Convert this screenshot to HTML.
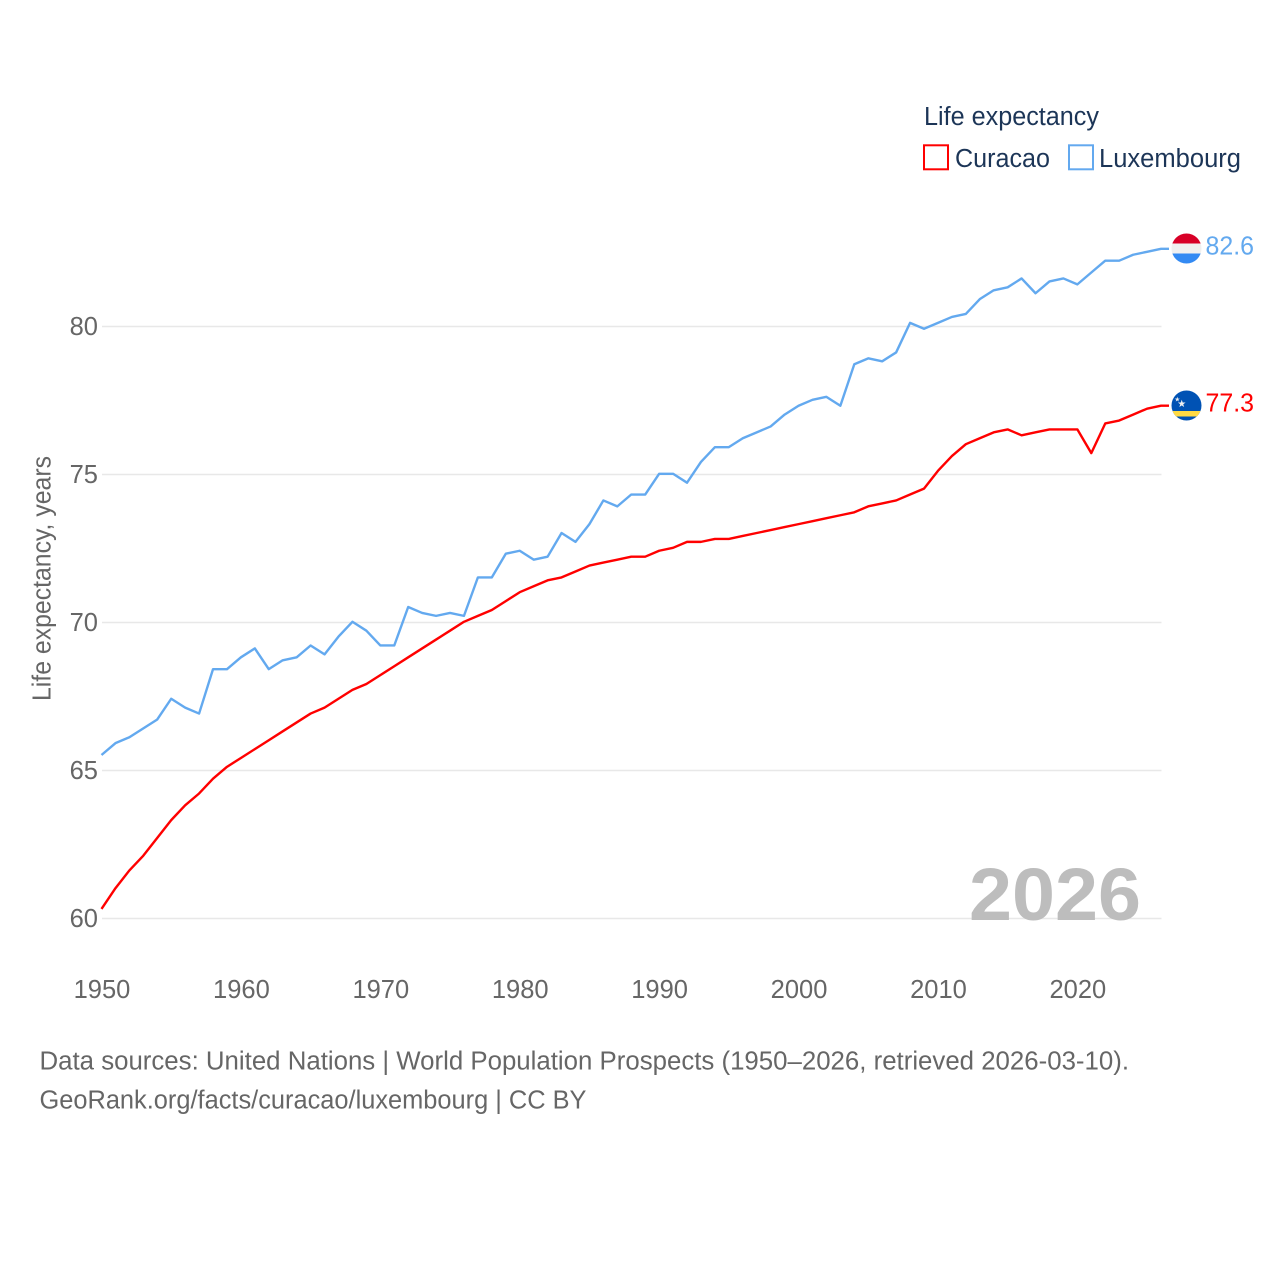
<!DOCTYPE html>
<html lang="en">
<head>
<meta charset="utf-8">
<title>Life expectancy: Curacao and Luxembourg</title>
<style>
html,body{margin:0;padding:0;background:#fff;width:1280px;height:1280px;overflow:hidden}
svg{display:block}
text{font-family:"Liberation Sans",sans-serif}
</style>
</head>
<body>
<svg id="chart" width="1280" height="1280" viewBox="0 0 1280 1280" xmlns="http://www.w3.org/2000/svg">
  <defs>
    <clipPath id="flag-clip-lu"><circle id="clip-lu" cx="1186.5" cy="248.5" r="15"></circle></clipPath>
    <clipPath id="flag-clip-cw"><circle id="clip-cw" cx="1186.5" cy="405.5" r="15"></circle></clipPath>
  </defs>
  <rect width="1280" height="1280" fill="#fff"></rect>

  <g id="grid"></g>
  <g id="y-ticks"></g>
  <g id="x-ticks"></g>

  <text transform="translate(50.5,578.5) rotate(-90)" text-anchor="middle" font-size="25.5" fill="#666" textLength="245" lengthAdjust="spacingAndGlyphs">Life expectancy, years</text>

  <text x="969" y="920" font-size="74" font-weight="700" fill="#bdbdbd" textLength="172" lengthAdjust="spacingAndGlyphs">2026</text>

  <g id="series" transform="translate(-0.5,-0.7)"></g>

  <g clip-path="url(#flag-clip-lu)">
    <rect x="1171" y="233" width="31" height="10.5" fill="#d80027"></rect>
    <rect x="1171" y="243.5" width="31" height="10" fill="#f0f0f0"></rect>
    <rect x="1171" y="253.5" width="31" height="11" fill="#338af3"></rect>
  </g>
  <g clip-path="url(#flag-clip-cw)">
    <rect x="1171" y="390" width="31" height="31" fill="#0052b4"></rect>
    <rect x="1171" y="411" width="31" height="5.5" fill="#ffda44"></rect>
    <text x="1181.7" y="407" font-size="10" fill="#f0f0f0" text-anchor="middle" style="font-family:'DejaVu Sans',sans-serif">★</text>
    <text x="1177.3" y="401.5" font-size="6.5" fill="#f0f0f0" text-anchor="middle" style="font-family:'DejaVu Sans',sans-serif">★</text>
  </g>

  <text id="value-lu" x="1205.5" y="254.5" font-size="25.5" fill="#63a9ef" textLength="48.5" lengthAdjust="spacingAndGlyphs">82.6</text>
  <text id="value-cw" x="1205.5" y="411.5" font-size="25.5" fill="#ff0000" textLength="48.5" lengthAdjust="spacingAndGlyphs">77.3</text>

  <g>
    <text x="924" y="125" font-size="25.5" fill="#1c3557" textLength="175" lengthAdjust="spacingAndGlyphs">Life expectancy</text>
    <g>
      <rect x="924" y="145.3" width="24" height="24" fill="none" stroke="#ff0000" stroke-width="2"></rect>
      <text x="955" y="167" font-size="25.5" fill="#1c3557" textLength="95" lengthAdjust="spacingAndGlyphs">Curacao</text>
    </g>
    <g>
      <rect x="1069" y="145.3" width="24" height="24" fill="none" stroke="#63a9ef" stroke-width="2"></rect>
      <text x="1099" y="167" font-size="25.5" fill="#1c3557" textLength="142" lengthAdjust="spacingAndGlyphs">Luxembourg</text>
    </g>
  </g>

  <text x="39.5" y="1069.5" font-size="25.5" fill="#666" textLength="1089.5" lengthAdjust="spacingAndGlyphs">Data sources: United Nations | World Population Prospects (1950–2026, retrieved 2026-03-10).</text>
  <text x="39.5" y="1108.5" font-size="25.5" fill="#666" textLength="547" lengthAdjust="spacingAndGlyphs">GeoRank.org/facts/curacao/luxembourg | CC BY</text>
</svg>

<script>
const startYear = 1950;
const curacaoValues = [
  60.3, 61.0, 61.6, 62.1, 62.7, 63.3, 63.8, 64.2, 64.7, 65.1,
  65.4, 65.7, 66.0, 66.3, 66.6, 66.9, 67.1, 67.4, 67.7, 67.9,
  68.2, 68.5, 68.8, 69.1, 69.4, 69.7, 70.0, 70.2, 70.4, 70.7,
  71.0, 71.2, 71.4, 71.5, 71.7, 71.9, 72.0, 72.1, 72.2, 72.2,
  72.4, 72.5, 72.7, 72.7, 72.8, 72.8, 72.9, 73.0, 73.1, 73.2,
  73.3, 73.4, 73.5, 73.6, 73.7, 73.9, 74.0, 74.1, 74.3, 74.5,
  75.1, 75.6, 76.0, 76.2, 76.4, 76.5, 76.3, 76.4, 76.5, 76.5,
  76.5, 75.7, 76.7, 76.8, 77.0, 77.2, 77.3
];
const luxembourgValues = [
  65.5, 65.9, 66.1, 66.4, 66.7, 67.4, 67.1, 66.9, 68.4, 68.4,
  68.8, 69.1, 68.4, 68.7, 68.8, 69.2, 68.9, 69.5, 70.0, 69.7,
  69.2, 69.2, 70.5, 70.3, 70.2, 70.3, 70.2, 71.5, 71.5, 72.3,
  72.4, 72.1, 72.2, 73.0, 72.7, 73.3, 74.1, 73.9, 74.3, 74.3,
  75.0, 75.0, 74.7, 75.4, 75.9, 75.9, 76.2, 76.4, 76.6, 77.0,
  77.3, 77.5, 77.6, 77.3, 78.7, 78.9, 78.8, 79.1, 80.1, 79.9,
  80.1, 80.3, 80.4, 80.9, 81.2, 81.3, 81.6, 81.1, 81.5, 81.6,
  81.4, 81.8, 82.2, 82.2, 82.4, 82.5, 82.6
];
const xTickYears = [1950, 1960, 1970, 1980, 1990, 2000, 2010, 2020];
const yTickValues = [60, 65, 70, 75, 80];

const SVG_NS = 'http://www.w3.org/2000/svg';
const xScale = function (year) { return 102 + (year - 1950) * (1059.5 / 76); };
const yScale = function (value) { return 918.5 - (value - 60) * 29.6; };

const gridGroup = document.getElementById('grid');
const yTickGroup = document.getElementById('y-ticks');
const xTickGroup = document.getElementById('x-ticks');
const seriesGroup = document.getElementById('series');

yTickValues.forEach(function (value) {
  const line = document.createElementNS(SVG_NS, 'line');
  
  
  line.setAttribute('x1', xScale(1950));
  line.setAttribute('x2', xScale(2026));
  line.setAttribute('y1', yScale(value));
  line.setAttribute('y2', yScale(value));
  line.setAttribute('stroke', '#e8e8e8');
  line.setAttribute('stroke-width', '1.4');
  gridGroup.appendChild(line);

  const label = document.createElementNS(SVG_NS, 'text');
  
  
  label.setAttribute('x', 98);
  label.setAttribute('y', yScale(value) + 8.5);
  label.setAttribute('text-anchor', 'end');
  label.setAttribute('font-size', '25.5');
  label.setAttribute('fill', '#666');
  label.textContent = String(value);
  yTickGroup.appendChild(label);
});

xTickYears.forEach(function (year) {
  const label = document.createElementNS(SVG_NS, 'text');
  
  
  label.setAttribute('x', xScale(year));
  label.setAttribute('y', 998);
  label.setAttribute('text-anchor', 'middle');
  label.setAttribute('font-size', '25.5');
  label.setAttribute('fill', '#666');
  label.textContent = String(year);
  xTickGroup.appendChild(label);
});

function buildPath(values) {
  let d = '';
  values.forEach(function (value, i) {
    d += (i === 0 ? 'M' : 'L') + xScale(startYear + i).toFixed(2) + ' ' + yScale(value).toFixed(2) + ' ';
  });
  const last = values[values.length - 1];
  d += 'L' + (xScale(startYear + values.length - 1) + 8).toFixed(2) + ' ' + yScale(last).toFixed(2);
  return d;
}

const curacaoLine = document.createElementNS(SVG_NS, 'path');


curacaoLine.setAttribute('d', buildPath(curacaoValues));
curacaoLine.setAttribute('fill', 'none');
curacaoLine.setAttribute('stroke', '#ff0000');
curacaoLine.setAttribute('stroke-width', '2.4');
curacaoLine.setAttribute('stroke-linejoin', 'round');
seriesGroup.appendChild(curacaoLine);

const luxembourgLine = document.createElementNS(SVG_NS, 'path');


luxembourgLine.setAttribute('d', buildPath(luxembourgValues));
luxembourgLine.setAttribute('fill', 'none');
luxembourgLine.setAttribute('stroke', '#63a9ef');
luxembourgLine.setAttribute('stroke-width', '2.4');
luxembourgLine.setAttribute('stroke-linejoin', 'round');
seriesGroup.appendChild(luxembourgLine);
</script>
</body>
</html>
